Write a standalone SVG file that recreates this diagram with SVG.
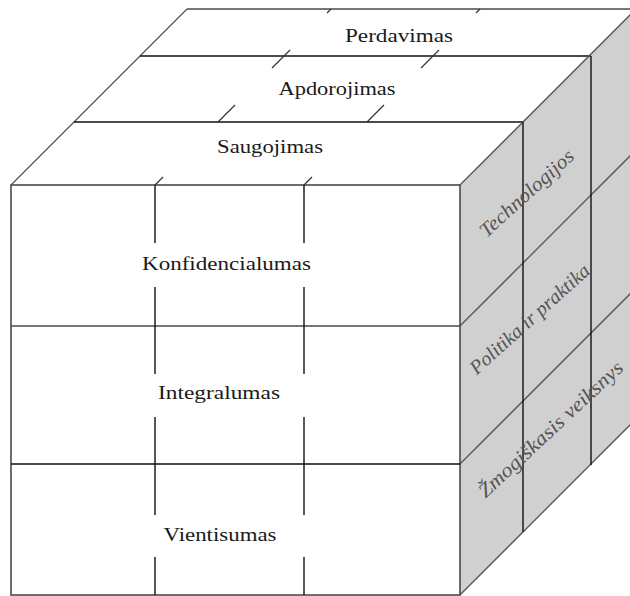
<svg xmlns="http://www.w3.org/2000/svg" width="630" height="596" viewBox="0 0 630 596">
<style>
.edge{fill:none;stroke:#4a4a4a;stroke-width:1.6}
.diag{fill:none;stroke:#555;stroke-width:1.3}
.grid{fill:none;stroke:#111;stroke-width:1.4}
.tick{fill:none;stroke:#333;stroke-width:1.2}
.lbl{font-family:"Liberation Serif","Times New Roman",serif;font-size:18px;fill:#1a1a1a;text-anchor:middle}
.side{font-family:"Liberation Serif","Times New Roman",serif;font-size:20px;font-style:italic;fill:#555;text-anchor:middle}
</style>
<rect width="630" height="596" fill="#fff"/>
<g id="top-face">
<polygon points="11,185 187,9 636,9 460,185" fill="#fff" stroke="none"/>
</g>
<g id="right-face">
<polygon points="460,185 636,9 636,419 460,595" fill="#d0d0d0" stroke="none"/>
</g>
<g id="front-face">
<rect x="11" y="185" width="449" height="410" fill="#fff" stroke="none"/>
</g>
<g id="connectors">
<line class="diag" x1="11" y1="185" x2="187" y2="9"/>
<line class="edge" x1="187" y1="9" x2="636" y2="9"/>
<line class="grid" x1="140" y1="56" x2="591" y2="56"/>
<line class="grid" x1="74" y1="122" x2="523" y2="122"/>
<line class="diag" x1="460" y1="185" x2="636" y2="9"/>
<line class="diag" x1="460" y1="326" x2="636" y2="150"/>
<line class="diag" x1="460" y1="464" x2="636" y2="288"/>
<line class="diag" x1="460" y1="595" x2="636" y2="419"/>
<line class="grid" x1="523" y1="122" x2="523" y2="532"/>
<line class="grid" x1="591" y1="56" x2="591" y2="465"/>
<rect class="edge" x="11" y="185" width="449" height="410"/>
<line class="edge" x1="11" y1="326" x2="460" y2="326"/>
<line class="grid" x1="11" y1="464" x2="460" y2="464"/>
<path class="grid" d="M155,185V243M155,287V374M155,417V515M155,557V595"/>
<path class="grid" d="M304,185V243M304,287V374M304,417V515M304,557V595"/>
<path class="tick" d="M155,185L163,177M218,122L235,105M272,68L290,50M327,13L331,9"/>
<path class="tick" d="M304,185L312,177M367,122L384,105M421,68L439,50M476,13L480,9"/>
</g>
<g id="label-perdavimas"><text class="lbl" x="399" y="42" textLength="108" lengthAdjust="spacingAndGlyphs">Perdavimas</text></g>
<g id="label-apdorojimas"><text class="lbl" x="337" y="95" textLength="117" lengthAdjust="spacingAndGlyphs">Apdorojimas</text></g>
<g id="label-saugojimas"><text class="lbl" x="270" y="153" textLength="106" lengthAdjust="spacingAndGlyphs">Saugojimas</text></g>
<g id="label-konfidencialumas"><text class="lbl" x="226.5" y="270" textLength="169" lengthAdjust="spacingAndGlyphs">Konfidencialumas</text></g>
<g id="label-integralumas"><text class="lbl" x="219" y="399" textLength="122" lengthAdjust="spacingAndGlyphs">Integralumas</text></g>
<g id="label-vientisumas"><text class="lbl" x="220" y="541" textLength="113" lengthAdjust="spacingAndGlyphs">Vientisumas</text></g>
<g id="label-technologijos"><text class="side" transform="translate(531,198) rotate(-42)" textLength="120" lengthAdjust="spacingAndGlyphs">Technologijos</text></g>
<g id="label-politika"><text class="side" transform="translate(534,324) rotate(-42)" textLength="154" lengthAdjust="spacingAndGlyphs">Politika ir praktika</text></g>
<g id="label-zmogiskasis"><text class="side" transform="translate(555,434) rotate(-43)" textLength="190" lengthAdjust="spacingAndGlyphs">Žmogiškasis veiksnys</text></g>
</svg>
